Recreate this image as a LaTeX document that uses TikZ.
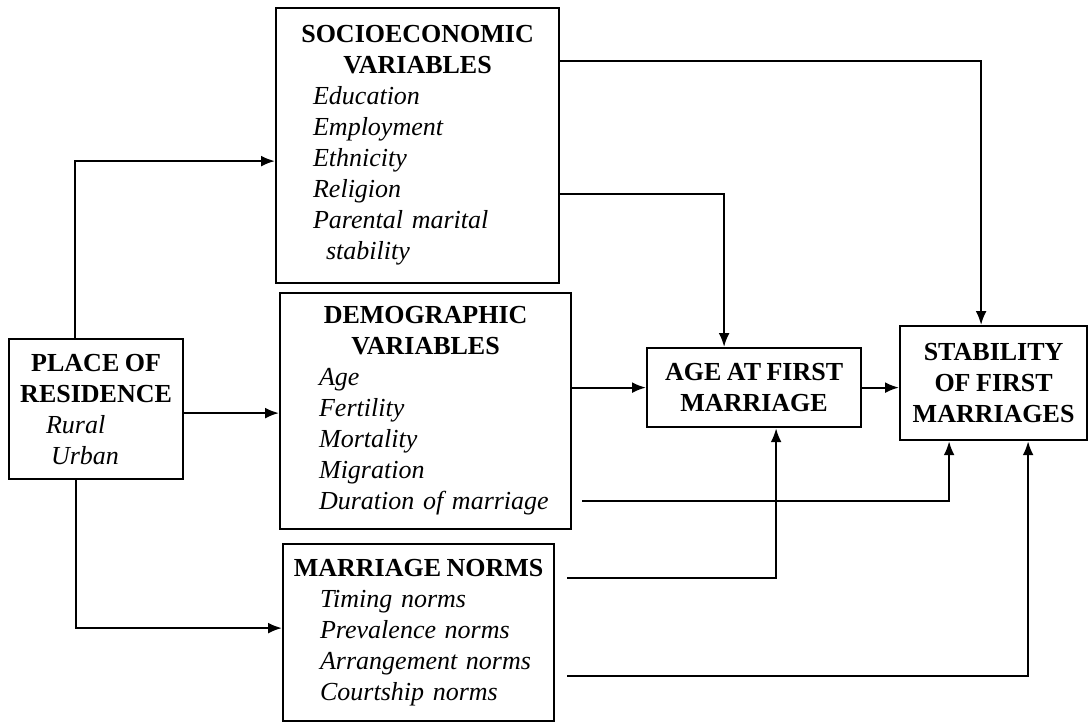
\documentclass[tikz,border=0pt]{standalone}
\usepackage{fontspec}
\setmainfont{Liberation Serif}
\usepackage{tikz}
\usetikzlibrary{arrows.meta}
\newcommand{\boxfont}{\fontsize{26}{31}\selectfont}
\newcommand{\boxhead}[1]{{\centering\bfseries\spaceskip=5.5pt plus 2pt minus 1pt #1\par}}
\newcommand{\boxitems}[2][37pt]{{\leftskip=#1\itshape #2\par}}

\begin{document}
\begin{tikzpicture}[x=1pt, y=-1pt, line width=2.2pt,
  varbox/.style={draw, anchor=north west, inner xsep=0pt, inner ysep=0pt,
    align=left, font=\boxfont},
  arr/.style={-{Latex[length=14pt, width=11pt]}}]

  \useasboundingbox (0, 0) rectangle (1088, 723);

  % boxes
  \node[varbox, text width=174pt, minimum height=140pt] (place) at (8, 338)
  {\boxhead{PLACE OF\\RESIDENCE}\boxitems{Rural\\\hspace*{5pt}Urban}};

  \node[varbox, text width=283pt, minimum height=275pt] (socio) at (275, 7)
  {\boxhead{SOCIOECONOMIC\\VARIABLES}\boxitems{Education\\Employment\\Ethnicity\\Religion\\Parental marital\\\hspace*{13pt}stability}};

  \node[varbox, text width=291pt, minimum height=236pt] (demo) at (279, 292)
  {\boxhead{DEMOGRAPHIC\\VARIABLES}\boxitems[39pt]{Age\\Fertility\\Mortality\\Migration\\Duration of marriage}};

  \node[varbox, text width=271pt, minimum height=177pt] (norms) at (282, 543)
  {\boxhead{MARRIAGE NORMS}\boxitems{Timing norms\\Prevalence norms\\Arrangement norms\\Courtship norms}};

  \node[varbox, text width=214pt, minimum height=79pt] (age) at (646, 347)
  {\boxhead{AGE AT FIRST\\MARRIAGE}};

  \node[varbox, text width=187pt, minimum height=114pt] (stab) at (899, 325)
  {\boxhead{STABILITY\\OF FIRST\\MARRIAGES}};

  % from place of residence
  \draw[arr] ([xshift=67pt]place.north west) |- ([yshift=-15.5pt]socio.west);
  \draw[arr] ([yshift=-4pt]place.east) -- ([yshift=-4pt]place.east -| demo.west);
  \draw[arr] ([xshift=68pt]place.south west) |- ([yshift=4.5pt]norms.west);

  % to age at first marriage
  \draw[arr] ([yshift=-48.5pt]socio.east) -| ([xshift=-30pt]age.north);
  \draw[arr] (demo.east |- age.west) -- (age.west);
  \draw[arr, shorten <=12pt] ([yshift=54.5pt]norms.east) -| ([xshift=22pt]age.south);

  % to stability of first marriages
  \draw[arr] ([yshift=84.5pt]socio.east) -| ([xshift=-12.5pt]stab.north);
  \draw[arr] (age.east) -- (age.east -| stab.west);
  \draw[arr, shorten <=10pt] ([yshift=-90pt]demo.east) -| ([xshift=-44.5pt]stab.south);
  \draw[arr, shorten <=12pt] ([yshift=-43.5pt]norms.east) -| ([xshift=34.5pt]stab.south);

\end{tikzpicture}
\end{document}
